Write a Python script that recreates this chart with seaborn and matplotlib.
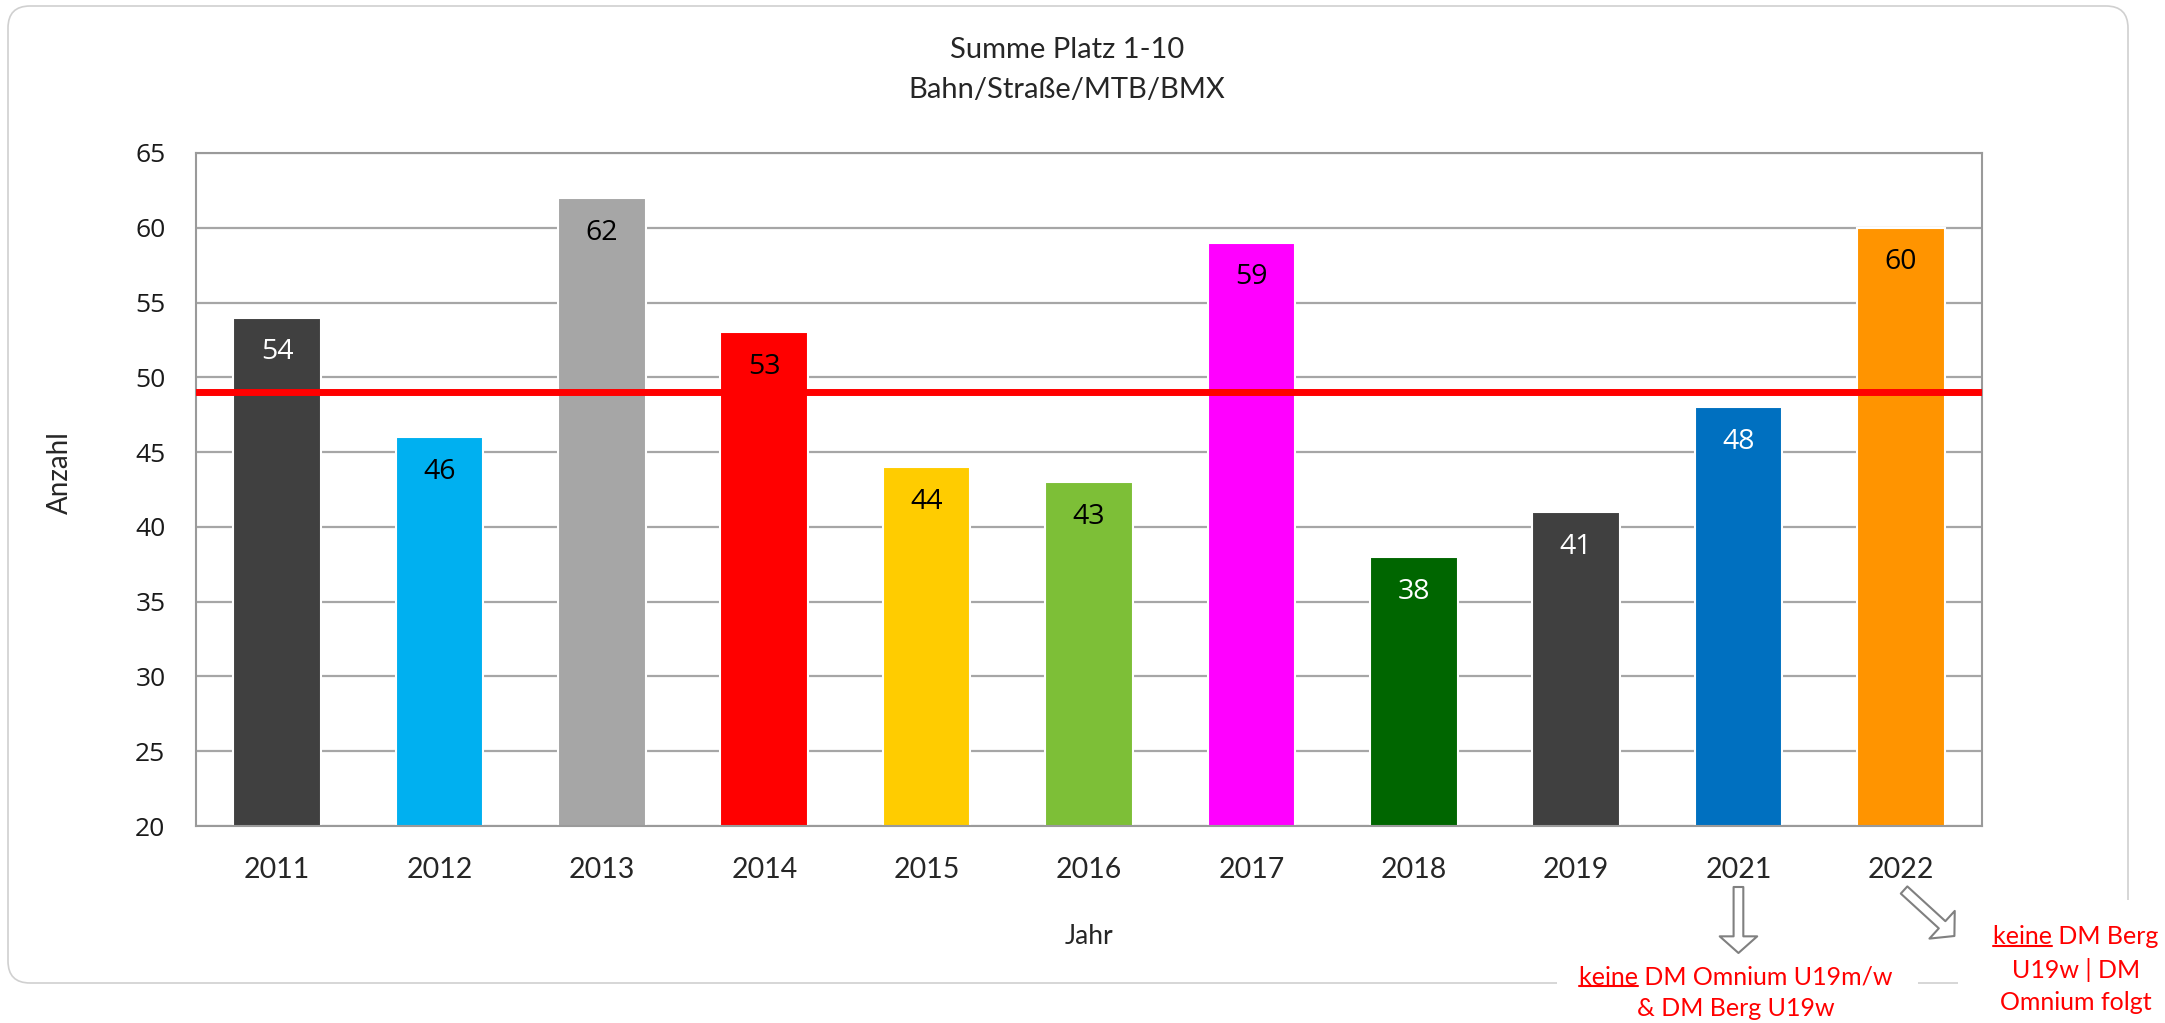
import seaborn as sns
import matplotlib.pyplot as plt
from matplotlib.patches import FancyBboxPatch, FancyArrowPatch, Rectangle
from matplotlib.lines import Line2D
from matplotlib.transforms import IdentityTransform, blended_transform_factory

# data
years = ['2011', '2012', '2013', '2014', '2015', '2016', '2017', '2018', '2019', '2021', '2022']
counts = [54, 46, 62, 53, 44, 43, 59, 38, 41, 48, 60]
bar_colors = ['#404040', '#00B0F0', '#A6A6A6', '#FF0000', '#FFCC00', '#7DBF37',
              '#FF00FF', '#006600', '#404040', '#0070C0', '#FF9400']
label_colors = ['white', 'black', 'black', 'black', 'black', 'black',
                'black', 'white', 'white', 'white', 'black']
avg_line = 49

note_2021 = ['keine DM Omnium U19m/w', '& DM Berg U19w']
note_2022 = ['keine DM Berg', 'U19w | DM', 'Omnium folgt']

W, H = 2165, 1023
GRID = '#A6A6A6'

sns.set_style('white')
plt.rcParams['font.family'] = ['Lato', 'DejaVu Sans']

fig = plt.figure(figsize=(W / 100, H / 100), dpi=100)
ax = fig.add_axes([196 / W, 1 - 826 / H, (1982 - 196) / W, (826 - 153) / H])

sns.barplot(x=years, y=counts, hue=years, palette=dict(zip(years, bar_colors)),
            legend=False, width=0.54, saturation=1, edgecolor='white',
            linewidth=1.5, ax=ax, zorder=2)

ax.set_xlim(-0.5, len(years) - 0.5)
ax.set_ylim(20, 65)
ax.set_yticks(range(20, 66, 5))
ax.yaxis.grid(True, color=GRID, lw=1.6)
ax.set_axisbelow(True)
for s in ax.spines.values():
    s.set_visible(True)
    s.set_color('#9A9A9A')
    s.set_linewidth(1.5)

ax.tick_params(axis='y', length=0, pad=22, labelsize=19)
ax.tick_params(axis='x', length=0, pad=22, labelsize=20.5)
for lab in ax.get_yticklabels():
    lab.set_fontfamily('Open Sans')
    lab.set_color('#1A1A1A')

ax.axhline(avg_line, color='#FF0000', lw=5, zorder=3)

for i, (v, c) in enumerate(zip(counts, label_colors)):
    ax.annotate(str(v), (i, v), xytext=(0, -25), textcoords='offset points',
                ha='center', va='center', color=c, fontsize=20.5,
                family='Open Sans', zorder=4)

ax.set_xlabel('Jahr', fontsize=19)
ax.set_ylabel('Anzahl', fontsize=20)
ax.xaxis.set_label_coords(0.5, -(936 - 826) / (826 - 153))
ax.xaxis.label.set_va('center')
ax.yaxis.set_label_coords(-(196 - 60) / (1982 - 196), (826 - 473) / (826 - 153))
ax.yaxis.label.set_va('center')

fig.text(1067 / W, 1 - 50 / H, 'Summe Platz 1-10', ha='center', va='center', fontsize=21)
fig.text(1067 / W, 1 - 90 / H, 'Bahn/Straße/MTB/BMX', ha='center', va='center',
         fontsize=21, color='#262626')

# outer frame
fig.add_artist(FancyBboxPatch((8, H - 983), 2120, 977, boxstyle='round,pad=0,rounding_size=22',
                              fc='none', ec='#D0D0D0', lw=1.2, transform=IdentityTransform(),
                              zorder=1))

# white backgrounds of the notes break the frame
for x0, x1, ytop in [(1557, 1918, 945), (1958, W, 900)]:
    fig.add_artist(Rectangle((x0, 0), x1 - x0, H - ytop, fc='white', ec='none',
                             transform=IdentityTransform(), zorder=2))

first_lines = []
for k, (line, yp) in enumerate(zip(note_2021, [975, 1006])):
    t = fig.text(1736 / W, 1 - (yp + 2) / H, line, ha='center', va='center',
                 color='#FF0000', fontsize=18, zorder=3)
    if k == 0:
        first_lines.append(t)
for k, (line, yp) in enumerate(zip(note_2022, [935, 968, 1000])):
    t = fig.text(2076 / W, 1 - (yp + 2) / H, line, ha='center', va='center',
                 color='#FF0000', fontsize=18, zorder=3)
    if k == 0:
        first_lines.append(t)

# hollow block arrows below the year labels
arrow_style = 'simple,head_length=12,head_width=27,tail_width=7'
trans = blended_transform_factory(ax.transData, fig.transFigure)
for (xa, ya), (xb, yb) in [((9, 887), (9, 953)), ((10.02, 890), (10.33, 936))]:
    arr = FancyArrowPatch((xa, 1 - ya / H), (xb, 1 - yb / H), arrowstyle=arrow_style,
                          mutation_scale=1, fc='white', ec='#808080', lw=1.5,
                          shrinkA=0, shrinkB=0, transform=trans, zorder=5)
    fig.add_artist(arr)

# underline the word "keine"
fig.canvas.draw()
r = fig.canvas.get_renderer()
for t in first_lines:
    bb = t.get_window_extent(r)
    probe = fig.text(0, 0, 'keine', fontproperties=t.get_fontproperties())
    w = probe.get_window_extent(r).width
    probe.remove()
    y = bb.y0 + 3
    fig.add_artist(Line2D([bb.x0, bb.x0 + w], [y, y], color='#FF0000', lw=1.5,
                          transform=IdentityTransform(), zorder=4))

fig.savefig('out.png', dpi=100, facecolor='white')
